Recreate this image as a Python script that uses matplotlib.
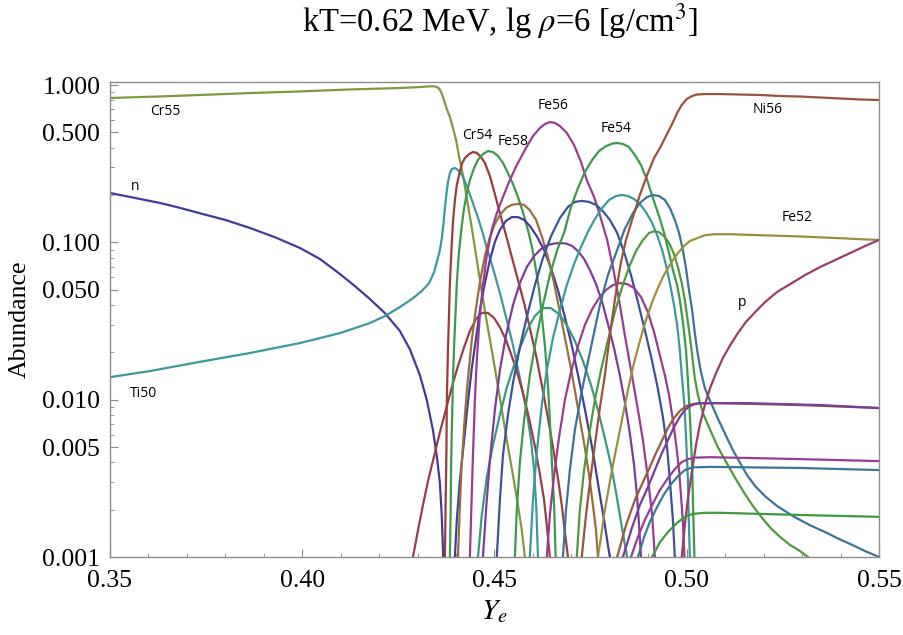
import matplotlib
matplotlib.use("Agg")
import matplotlib.pyplot as plt
from matplotlib.colors import hsv_to_rgb
from matplotlib.ticker import FixedLocator, NullFormatter

# ---- NSE mass fractions vs electron fraction Ye (kT=0.62 MeV, lg rho=6) ----
ye_n = [0.35, 0.3565, 0.363, 0.3682, 0.3734, 0.3799, 0.3864, 0.3929, 0.3994, 0.4046, 0.4098, 0.4137, 0.4176,
        0.4215, 0.4254, 0.428, 0.4306, 0.4324, 0.434, 0.435, 0.4358, 0.4363, 0.4367, 0.4371]
ab_n = [0.206, 0.1914, 0.178, 0.1656, 0.153, 0.139, 0.1234, 0.1078, 0.0921, 0.0784, 0.0629, 0.0527, 0.0436,
        0.0355, 0.0273, 0.0209, 0.0143, 0.00994, 0.0064, 0.00437, 0.00295, 0.0018, 0.00093, 0.00053]

ye_ti50 = [0.35, 0.3604, 0.3734, 0.3864, 0.3994, 0.4098, 0.4176, 0.4215, 0.4254, 0.4285, 0.4311, 0.433, 0.4343,
           0.435, 0.4358, 0.4363, 0.4367, 0.4371, 0.4375, 0.4379, 0.4384, 0.4389, 0.4396, 0.4402, 0.441, 0.4418,
           0.4428, 0.4441, 0.4454, 0.4467, 0.448, 0.4496, 0.4514, 0.4532, 0.4548, 0.4566, 0.4584, 0.4595, 0.4603,
           0.4609, 0.4613, 0.4616]
ab_ti50 = [0.0139, 0.0152, 0.0174, 0.0198, 0.0229, 0.0265, 0.0307, 0.034, 0.0388, 0.0436, 0.0491, 0.0551, 0.0648,
           0.075, 0.0893, 0.1062, 0.129, 0.1656, 0.2027, 0.2418, 0.2756, 0.2923, 0.2967, 0.2923, 0.2797, 0.2603,
           0.2276, 0.186, 0.1509, 0.120, 0.0921, 0.0686, 0.0477, 0.0321, 0.0222, 0.0137, 0.00835, 0.00553, 0.00357,
           0.00199, 0.001, 0.00062]

ye_cr55 = [0.35, 0.363, 0.3734, 0.3864, 0.3994, 0.4124, 0.4254, 0.4306, 0.4332, 0.4343, 0.435, 0.4356, 0.4361,
           0.4366, 0.4371, 0.4376, 0.4384, 0.4392, 0.44, 0.4407, 0.4418, 0.4428, 0.4441, 0.4454, 0.4467, 0.448,
           0.4496, 0.4514, 0.4532, 0.4548, 0.4561, 0.4571, 0.4579, 0.4587]
ab_cr55 = [0.827, 0.846, 0.864, 0.889, 0.910, 0.937, 0.957, 0.971, 0.981, 0.981, 0.971, 0.950, 0.903,
           0.839, 0.768, 0.704, 0.626, 0.533, 0.447, 0.359, 0.268, 0.191, 0.1234, 0.0772, 0.0484, 0.0312,
           0.0187, 0.0103, 0.00553, 0.00331, 0.00214, 0.00148, 0.001, 0.00066]

ye_cr54 = [0.4369, 0.4371, 0.4373, 0.4375, 0.4376, 0.4379, 0.4382, 0.4384, 0.4388, 0.4392, 0.4397, 0.4402, 0.4409,
           0.4415, 0.4423, 0.4434, 0.4444, 0.4454, 0.4465, 0.4475, 0.4488, 0.4501, 0.4514, 0.453, 0.4545, 0.4561,
           0.4577, 0.4592, 0.4608, 0.4623, 0.4639, 0.4652, 0.4665, 0.4676, 0.4683, 0.4691, 0.4699]
ab_cr54 = [0.0004, 0.001, 0.0023, 0.00478, 0.00994, 0.0207, 0.0371, 0.0551, 0.0893, 0.135, 0.186, 0.231, 0.2756,
           0.315, 0.3435, 0.364, 0.375, 0.370, 0.3486, 0.3196, 0.264, 0.2027, 0.1531, 0.111, 0.0807, 0.0576,
           0.0412, 0.0285, 0.0192, 0.0124, 0.00766, 0.0050, 0.00317, 0.00205, 0.00144, 0.001, 0.00066]

ye_fe58 = [0.4382, 0.4384, 0.4386, 0.4387, 0.4389, 0.4392, 0.4395, 0.4399, 0.4402, 0.4407, 0.4413, 0.442, 0.4428,
           0.4436, 0.4447, 0.4457, 0.447, 0.4483, 0.4496, 0.4509, 0.4522, 0.4535, 0.4548, 0.4561, 0.4574, 0.4587,
           0.4598, 0.4608, 0.4616, 0.4623, 0.4631, 0.4639, 0.4644, 0.4649, 0.4655, 0.4659, 0.4663]
ab_fe58 = [0.00053, 0.001, 0.00199, 0.00357, 0.0064, 0.0133, 0.0222, 0.0371, 0.0551, 0.0831, 0.1166, 0.160, 0.2058,
           0.249, 0.2967, 0.334, 0.364, 0.380, 0.375, 0.354, 0.3196, 0.2756, 0.2348, 0.1942, 0.1554, 0.120,
           0.0921, 0.0667, 0.0498, 0.0345, 0.0222, 0.0124, 0.0074, 0.00413, 0.00214, 0.001, 0.00053]

ye_fe56 = [0.4431, 0.4436, 0.444, 0.4444, 0.4449, 0.4454, 0.4462, 0.447, 0.448, 0.4494, 0.4506, 0.4522, 0.454,
           0.4558, 0.4579, 0.46, 0.4618, 0.4631, 0.4644, 0.4657, 0.467, 0.4688, 0.4707, 0.4725, 0.474, 0.4759,
           0.4774, 0.4793, 0.4808, 0.4824, 0.4839, 0.4855, 0.4871, 0.4886, 0.4899, 0.491, 0.4917, 0.4923]
ab_fe56 = [0.00053, 0.001, 0.00214, 0.00444, 0.00994, 0.0179, 0.0345, 0.0535, 0.0831, 0.1234, 0.1531, 0.1942, 0.249,
           0.310, 0.386, 0.474, 0.533, 0.565, 0.582, 0.574, 0.549, 0.496, 0.415, 0.3245, 0.249, 0.1942,
           0.149, 0.1035, 0.0697, 0.043, 0.0257, 0.0154, 0.00924, 0.00553, 0.00317, 0.00185, 0.001, 0.00062]

ye_fe54 = [0.4548, 0.4553, 0.4558, 0.4566, 0.4577, 0.4592, 0.4608, 0.4626, 0.4644, 0.4663, 0.4681, 0.4699, 0.4717,
           0.4735, 0.4754, 0.4772, 0.479, 0.4806, 0.4819, 0.4834, 0.485, 0.4865, 0.4881, 0.4897, 0.4912, 0.4928,
           0.4941, 0.4954, 0.4964, 0.4975, 0.4982, 0.499, 0.4998, 0.5003, 0.5008, 0.5014, 0.5017, 0.502, 0.5023]
ab_fe54 = [0.00053, 0.001, 0.00199, 0.00401, 0.0074, 0.0143, 0.0239, 0.0399, 0.062, 0.0893, 0.1148, 0.168, 0.2211,
           0.2797, 0.334, 0.3805, 0.409, 0.424, 0.428, 0.422, 0.403, 0.359, 0.310, 0.249, 0.1914, 0.1468,
           0.1148, 0.0855, 0.0667, 0.0535, 0.043, 0.0312, 0.0207, 0.0133, 0.0080, 0.00384, 0.00185, 0.001, 0.00053]

ye_ni56 = [0.4719, 0.4727, 0.4738, 0.4748, 0.4761, 0.4774, 0.4787, 0.48, 0.4811, 0.4819, 0.4829, 0.4842, 0.486,
           0.4878, 0.4897, 0.4915, 0.493, 0.4946, 0.4962, 0.4975, 0.4987, 0.5, 0.5014, 0.5027, 0.5047, 0.5086,
           0.5139, 0.5191, 0.5243, 0.5295, 0.5347, 0.5399, 0.5451, 0.55]
ab_ni56 = [0.00053, 0.001, 0.00185, 0.00295, 0.00514, 0.00885, 0.0143, 0.0257, 0.0399, 0.0535, 0.075, 0.1035, 0.1447,
           0.200, 0.268, 0.3435, 0.397, 0.474, 0.565, 0.664, 0.746, 0.815, 0.851, 0.870, 0.876, 0.876,
           0.870, 0.864, 0.851, 0.845, 0.833, 0.821, 0.809, 0.803]

ye_fe52 = [0.4764, 0.4769, 0.4777, 0.4787, 0.4798, 0.4808, 0.4821, 0.4834, 0.4847, 0.486, 0.4873, 0.4886, 0.4899,
           0.4912, 0.4925, 0.4938, 0.4951, 0.4964, 0.4977, 0.4993, 0.5008, 0.5027, 0.5047, 0.5073, 0.5113, 0.5191,
           0.5295, 0.5399, 0.55]
ab_fe52 = [0.00053, 0.001, 0.00134, 0.00199, 0.00282, 0.00384, 0.00553, 0.0080, 0.0115, 0.0161, 0.0212, 0.0277, 0.035,
           0.043, 0.0512, 0.0602, 0.0686, 0.0772, 0.0855, 0.0948, 0.102, 0.1062, 0.111, 0.1126, 0.1126, 0.111,
           0.109, 0.1062, 0.1035]

ye_p = [0.4982, 0.4987, 0.4995, 0.5003, 0.5014, 0.5024, 0.5034, 0.5047, 0.5061, 0.5076, 0.5094, 0.5113, 0.5133,
        0.5154, 0.5178, 0.5204, 0.5235, 0.5269, 0.5308, 0.5347, 0.5386, 0.5425, 0.5464, 0.55]
ab_p = [0.00053, 0.001, 0.00159, 0.00236, 0.00357, 0.00514, 0.0069, 0.00924, 0.0119, 0.0147, 0.0184, 0.0222, 0.0265,
        0.0312, 0.036, 0.0418, 0.0484, 0.0543, 0.062, 0.0697, 0.0772, 0.0855, 0.0948, 0.1035]

# further species, not labelled
ye_a = [0.428, 0.4288, 0.4301, 0.4314, 0.4327, 0.4343, 0.4358, 0.4374, 0.4389, 0.4405, 0.4421, 0.4436, 0.4452,
        0.4467, 0.4483, 0.4499, 0.4514, 0.453, 0.4545, 0.4561, 0.4577, 0.4592, 0.4605, 0.4618, 0.4629, 0.4636,
        0.4644, 0.4649]
ab_a = [0.00062, 0.001, 0.00148, 0.00214, 0.00304, 0.00438, 0.00621, 0.00872, 0.01204, 0.01636, 0.02156, 0.0273,
        0.0325, 0.0356, 0.0356, 0.0330, 0.0289, 0.0239, 0.0189, 0.0143, 0.0104, 0.00719, 0.00507, 0.00337,
        0.0023, 0.00159, 0.001, 0.00066]

ye_b = [0.4392, 0.4397, 0.4402, 0.441, 0.4421, 0.4431, 0.4441, 0.4452, 0.4462, 0.4475, 0.4488, 0.4501, 0.4514,
        0.453, 0.4545, 0.4561, 0.4577, 0.4592, 0.461, 0.4629, 0.4647, 0.4665, 0.4683, 0.4702, 0.472, 0.4738,
        0.4756, 0.4772, 0.4785, 0.4795, 0.48, 0.4808]
ab_b = [0.00053, 0.001, 0.00172, 0.00308, 0.00553, 0.00965, 0.0159, 0.0246, 0.0371, 0.0551, 0.0772, 0.1005, 0.120,
        0.137, 0.1447, 0.1447, 0.139, 0.1271, 0.1094, 0.0893, 0.0686, 0.0498, 0.0335, 0.02156, 0.0133, 0.0080,
        0.00464, 0.00266, 0.00172, 0.00119, 0.001, 0.00062]

ye_c = [0.44, 0.4405, 0.441, 0.4415, 0.4423, 0.4431, 0.4441, 0.4452, 0.4462, 0.4475, 0.4488, 0.4501, 0.4514,
        0.453, 0.4545, 0.4561, 0.4577, 0.4592, 0.4608, 0.4623, 0.4639, 0.4655, 0.467, 0.4686, 0.4702, 0.4717,
        0.4733, 0.4746, 0.4756, 0.4764, 0.4769, 0.4774]
ab_c = [0.00053, 0.001, 0.00214, 0.00401, 0.0080, 0.0137, 0.0239, 0.0382, 0.0559, 0.0819, 0.1078, 0.1311, 0.149,
        0.1656, 0.173, 0.1756, 0.173, 0.160, 0.139, 0.1094, 0.0807, 0.0551, 0.036, 0.0229, 0.0143, 0.00885,
        0.0053, 0.00331, 0.00214, 0.00148, 0.001, 0.00062]

ye_d = [0.4449, 0.4457, 0.4467, 0.448, 0.4496, 0.4514, 0.4532, 0.4551, 0.4569, 0.4587, 0.4605, 0.4626, 0.4647,
        0.4668, 0.4688, 0.4709, 0.473, 0.4751, 0.4769, 0.4787, 0.4803, 0.4816, 0.4826, 0.4837, 0.4845, 0.4852]
ab_d = [0.00053, 0.001, 0.00185, 0.00322, 0.00514, 0.0080, 0.0119, 0.0166, 0.0222, 0.0285, 0.034, 0.0382, 0.0382,
        0.035, 0.0298, 0.0236, 0.0176, 0.0124, 0.0086, 0.0057, 0.00384, 0.00258, 0.00185, 0.00128, 0.001, 0.00062]

ye_e = [0.4465, 0.447, 0.4478, 0.4488, 0.4501, 0.4514, 0.453, 0.4548, 0.4566, 0.4584, 0.4603, 0.4621, 0.4639,
        0.4655, 0.467, 0.4686, 0.4702, 0.4717, 0.4733, 0.4748, 0.4764, 0.478, 0.4795, 0.4811, 0.4826, 0.4839,
        0.4852, 0.4863, 0.4871, 0.4876, 0.4881, 0.4886]
ab_e = [0.00053, 0.001, 0.00199, 0.00413, 0.0086, 0.0154, 0.0257, 0.0399, 0.0551, 0.0697, 0.0819, 0.0907, 0.0962,
        0.0983, 0.099, 0.0983, 0.0948, 0.088, 0.0784, 0.0667, 0.0543, 0.0418, 0.0303, 0.0212, 0.0143, 0.00965,
        0.00612, 0.00384, 0.0024, 0.00159, 0.001, 0.00062]

ye_f = [0.4501, 0.4506, 0.4514, 0.4522, 0.4535, 0.4548, 0.4566, 0.4584, 0.4605, 0.4626, 0.4647, 0.467, 0.4691,
        0.4709, 0.4727, 0.4746, 0.4764, 0.4782, 0.48, 0.4819, 0.4837, 0.4855, 0.4873, 0.4891, 0.4907, 0.4923,
        0.4938, 0.4949, 0.4956, 0.4964, 0.4969, 0.4975]
ab_f = [0.00053, 0.001, 0.0023, 0.00444, 0.0080, 0.01273, 0.02156, 0.0335, 0.0535, 0.0795, 0.1094, 0.1426, 0.168,
        0.1807, 0.1834, 0.1807, 0.173, 0.1577, 0.139, 0.1148, 0.0867, 0.062, 0.0418, 0.0277, 0.0189, 0.0124,
        0.00777, 0.00492, 0.00308, 0.00172, 0.001, 0.00053]

ye_g = [0.4587, 0.4592, 0.46, 0.461, 0.4623, 0.4636, 0.4652, 0.467, 0.4688, 0.4707, 0.4725, 0.4743, 0.4761,
        0.478, 0.4798, 0.4816, 0.4831, 0.4847, 0.4863, 0.4878, 0.4894, 0.491, 0.4923, 0.4936, 0.4946, 0.4956,
        0.4967, 0.4975, 0.4982, 0.4987, 0.4993, 0.4998, 0.5003, 0.5005, 0.5008, 0.5011]
ab_g = [0.00053, 0.001, 0.0023, 0.00464, 0.00924, 0.0154, 0.0246, 0.0371, 0.0535, 0.0728, 0.0934, 0.1166, 0.1405,
        0.1656, 0.186, 0.197, 0.200, 0.197, 0.1886, 0.1754, 0.1554, 0.133, 0.111, 0.0893, 0.0717, 0.0551,
        0.0399, 0.0298, 0.0207, 0.0143, 0.00994, 0.00596, 0.00308, 0.00185, 0.001, 0.00053]

ye_h = [0.4631, 0.4636, 0.4644, 0.4655, 0.4668, 0.4683, 0.4699, 0.4717, 0.4735, 0.4754, 0.4772, 0.479, 0.4808,
        0.4826, 0.4845, 0.4863, 0.4881, 0.4899, 0.4915, 0.493, 0.4943, 0.4954, 0.4964, 0.4972, 0.498, 0.4985,
        0.499, 0.4994, 0.4996]
ab_h = [0.00053, 0.001, 0.00185, 0.00331, 0.00579, 0.00994, 0.015, 0.0219, 0.0298, 0.0376, 0.0442, 0.0498, 0.0535,
        0.0551, 0.0543, 0.0512, 0.0449, 0.036, 0.0269, 0.0192, 0.0143, 0.0107, 0.0074, 0.0053, 0.00357, 0.00247,
        0.00167, 0.001, 0.00053]

ye_i = [0.4673, 0.4678, 0.4686, 0.4696, 0.4709, 0.4725, 0.474, 0.4756, 0.4774, 0.4795, 0.4819, 0.4839, 0.486,
        0.4878, 0.4897, 0.4912, 0.4928, 0.4943, 0.4956, 0.4969, 0.498, 0.499, 0.4998, 0.5005, 0.5014, 0.5021,
        0.5029, 0.5037, 0.5047, 0.5061, 0.5079, 0.51, 0.512, 0.5139, 0.5157, 0.5178, 0.5204, 0.5235, 0.5276,
        0.5321, 0.536, 0.5391, 0.5425, 0.5464, 0.55, 0.5516]
ab_i = [0.00053, 0.001, 0.00199, 0.00357, 0.0064, 0.0107, 0.0161, 0.0246, 0.0399, 0.062, 0.0893, 0.1217, 0.1531,
        0.178, 0.1942, 0.200, 0.197, 0.186, 0.1656, 0.139, 0.1148, 0.0893, 0.0686, 0.0512, 0.0371, 0.0265,
        0.0192, 0.015, 0.01187, 0.0098, 0.00777, 0.00604, 0.00478, 0.00395, 0.00331, 0.00282, 0.00243, 0.00211,
        0.00182, 0.00159, 0.00144, 0.00132, 0.00121, 0.00109, 0.001, 0.00096]

ye_j = [0.4709, 0.4714, 0.4722, 0.4733, 0.4746, 0.4761, 0.4777, 0.4795, 0.4813, 0.4831, 0.485, 0.4868, 0.4886,
        0.4902, 0.4915, 0.4928, 0.4941, 0.4954, 0.4967, 0.4977, 0.4987, 0.4995, 0.5003, 0.5011, 0.5016, 0.5021,
        0.5029, 0.5042, 0.5061, 0.5081, 0.5104, 0.5128, 0.5152, 0.5172, 0.5196, 0.5219, 0.5243, 0.5269, 0.5295,
        0.5315, 0.5341]
ab_j = [0.00053, 0.001, 0.00199, 0.00357, 0.00596, 0.00994, 0.0154, 0.0239, 0.036, 0.0512, 0.0697, 0.088, 0.1035,
        0.1148, 0.1175, 0.1162, 0.1094, 0.099, 0.0842, 0.0697, 0.0551, 0.043, 0.0312, 0.0222, 0.0174, 0.0137,
        0.0107, 0.00823, 0.0064, 0.00499, 0.00395, 0.00312, 0.0025, 0.00211, 0.00177, 0.00152, 0.00134, 0.00119,
        0.00109, 0.001, 0.00092]

ye_k = [0.4811, 0.4819, 0.4842, 0.4865, 0.4886, 0.4904, 0.492, 0.4936, 0.4951, 0.4967, 0.4982, 0.4998, 0.5014,
        0.5034, 0.5086, 0.5295, 0.55]
ab_k = [0.00053, 0.001, 0.00159, 0.0023, 0.00299, 0.00373, 0.00458, 0.00553, 0.0066, 0.00766, 0.00848, 0.0091,
        0.00937, 0.0095, 0.0095, 0.00924, 0.00885]

ye_l = [0.4826, 0.4834, 0.4857, 0.4878, 0.4899, 0.4917, 0.4933, 0.4951, 0.4967, 0.4982, 0.4995, 0.5008, 0.5021,
        0.5034, 0.5165, 0.5347, 0.55]
ab_l = [0.00053, 0.001, 0.00152, 0.00214, 0.00278, 0.00357, 0.00444, 0.00553, 0.00671, 0.00777, 0.0086, 0.0091,
        0.00937, 0.0095, 0.0095, 0.00924, 0.00885]

ye_m = [0.4847, 0.4855, 0.4873, 0.4891, 0.491, 0.493, 0.4951, 0.4969, 0.4987, 0.5003, 0.5021, 0.5061, 0.5295, 0.55]
ab_m = [0.00053, 0.001, 0.00134, 0.00172, 0.00214, 0.00266, 0.00317, 0.00362, 0.00401, 0.00419, 0.00428, 0.00431,
        0.00419, 0.00407]

ye_o = [0.4865, 0.4873, 0.4889, 0.4904, 0.4923, 0.4941, 0.4959, 0.4977, 0.4995, 0.5014, 0.5061, 0.5295, 0.55]
ab_o = [0.00053, 0.001, 0.00134, 0.00167, 0.00208, 0.00251, 0.0029, 0.00326, 0.00357, 0.00371, 0.00374, 0.00368,
        0.00357]

ye_q = [0.4899, 0.491, 0.493, 0.4951, 0.4975, 0.4995, 0.5016, 0.5047, 0.5086, 0.5295, 0.55]
ab_q = [0.00077, 0.001, 0.00124, 0.00144, 0.00165, 0.0018, 0.00188, 0.00191, 0.00191, 0.00185, 0.0018]

# curve labels and where they sit
label_text = ["Cr55", "n", "Ti50", "Cr54", "Fe58", "Fe56", "Fe54", "Ni56", "Fe52", "p"]
label_ye = [0.3643, 0.3565, 0.3586, 0.4454, 0.4548, 0.4652, 0.4816, 0.5211, 0.5286, 0.5143]
label_ab = [0.683, 0.228, 0.011, 0.481, 0.44, 0.746, 0.533, 0.694, 0.143, 0.0417]

series = [
    (ye_cr55, ab_cr55, 0.21),
    (ye_n, ab_n, 0.67),
    (ye_ti50, ab_ti50, 0.50),
    (ye_a, ab_a, 0.975),
    (ye_cr54, ab_cr54, 0.0),
    (ye_fe58, ab_fe58, 0.36),
    (ye_b, ab_b, 0.68),
    (ye_c, ab_c, 0.09),
    (ye_d, ab_d, 0.45),
    (ye_fe56, ab_fe56, 0.85),
    (ye_e, ab_e, 0.78),
    (ye_f, ab_f, 0.63),
    (ye_fe54, ab_fe54, 0.36),
    (ye_g, ab_g, 0.50),
    (ye_h, ab_h, 0.86),
    (ye_i, ab_i, 0.57),
    (ye_j, ab_j, 0.30),
    (ye_ni56, ab_ni56, 0.04),
    (ye_fe52, ab_fe52, 0.15),
    (ye_p, ab_p, 0.92),
    (ye_k, ab_k, 0.05),
    (ye_l, ab_l, 0.77),
    (ye_m, ab_m, 0.83),
    (ye_o, ab_o, 0.56),
    (ye_q, ab_q, 0.33),
]

plt.rcParams["mathtext.fontset"] = "stix"
serif = "Liberation Serif"

fig = plt.figure(figsize=(9.04, 6.35), dpi=100)
ax = fig.add_axes([0.12168, 0.12283, 0.85066, 0.74803])

for xs, ys, hue in series:
    ax.plot(xs, ys, color=hsv_to_rgb((hue, 0.6, 0.6)), lw=1.6,
            solid_capstyle="round", solid_joinstyle="round")

ax.set_yscale("log")
ax.set_xlim(0.35, 0.55)
ax.set_ylim(0.001, 1.045)

for txt, x, y in zip(label_text, label_ye, label_ab):
    ax.text(x, y, txt, family="Open Sans", fontsize=10, ha="center", va="center", color="black")

# frame and ticks
frame_grey = "#8c8c8c"
for s in ax.spines.values():
    s.set_color(frame_grey)
    s.set_linewidth(1.0)

ax.yaxis.set_major_locator(FixedLocator([0.001, 0.005, 0.01, 0.05, 0.1, 0.5, 1.0]))
minor_y = [m * 10.0 ** e for e in (-3, -2, -1) for m in (2, 3, 4, 6, 7, 8, 9)] + [0.2, 0.3, 0.4, 0.6, 0.7, 0.8, 0.9]
ax.yaxis.set_minor_locator(FixedLocator(sorted(set(minor_y))))
ax.yaxis.set_minor_formatter(NullFormatter())
ax.set_yticklabels(["0.001", "0.005", "0.010", "0.050", "0.100", "0.500", "1.000"])

ax.xaxis.set_major_locator(FixedLocator([0.35, 0.40, 0.45, 0.50, 0.55]))
ax.xaxis.set_minor_locator(FixedLocator([0.35 + 0.01 * i for i in range(21)]))
ax.set_xticklabels(["0.35", "0.40", "0.45", "0.50", "0.55"])

ax.tick_params(which="both", direction="in", color=frame_grey, top=False, right=False)
ax.tick_params(which="major", length=6, width=0.8, labelsize=18.5)
ax.tick_params(axis="y", which="major", pad=7)
ax.tick_params(axis="x", which="major", pad=9)
ax.tick_params(which="minor", length=3, width=0.6)
for lab in ax.get_xticklabels() + ax.get_yticklabels():
    lab.set_family(serif)

ax.set_ylabel("Abundance", family=serif, fontsize=18.5, labelpad=8)
ax.set_xlabel(r"$Y_e$", fontsize=21, labelpad=4)
fig.text(0.553, 0.967, r"kT=0.62 MeV, lg $\rho$=6 [g/cm$^3$]", family=serif,
         fontsize=23.5, ha="center", va="center")

fig.savefig("out.png", dpi=100)
